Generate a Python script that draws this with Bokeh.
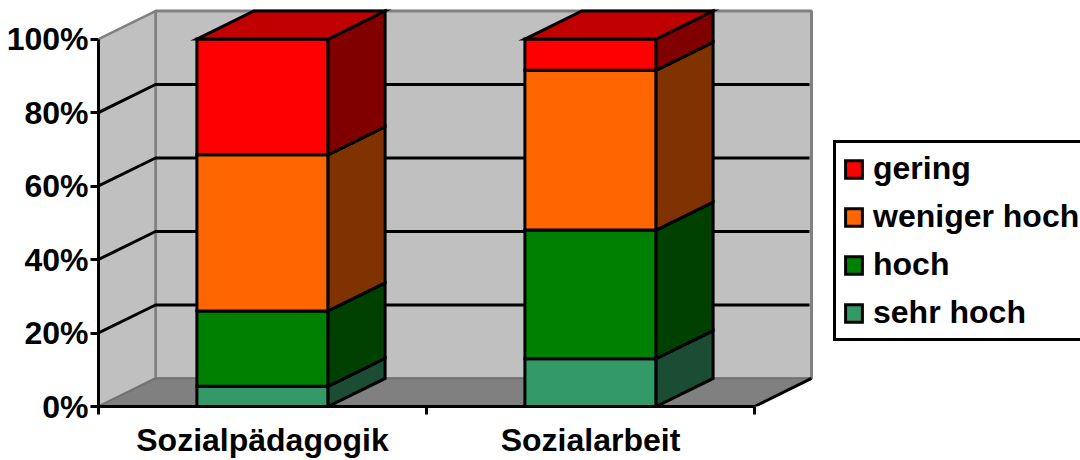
from bokeh.embed import file_html
from bokeh.models import FixedTicker, Legend, LegendItem, Range1d
from bokeh.plotting import figure
from bokeh.resources import INLINE

categories = ["Sozialpädagogik", "Sozialarbeit"]
series_names = ["sehr hoch", "hoch", "weniger hoch", "gering"]
sehr_hoch = [5.5, 13.0]
hoch = [20.5, 35.0]
weniger_hoch = [42.5, 43.5]
gering = [31.5, 8.5]
series_values = [sehr_hoch, hoch, weniger_hoch, gering]
front_colors = ["#339966", "#008000", "#FF6600", "#FF0000"]
side_colors = ["#1A4D33", "#004000", "#803300", "#800000"]
top_color = "#C00000"
y_ticks = [0, 20, 40, 60, 80, 100]

# projection of the depth axis, in data units
DX, DY = 57 / 328, 28 / 3.67
BAR = 0.4
FONT = "Liberation Sans"
FS = "32px"
N = len(categories)
LW = 3

p = figure(width=1080, height=460, output_backend="svg", toolbar_location=None,
           x_range=Range1d(0, 982 / 328), y_range=Range1d(0, 405.5 / 3.67),
           min_border_left=98, min_border_right=0, min_border_top=0, min_border_bottom=54)
p.outline_line_color = None
p.background_fill_color = None
p.grid.visible = False

GRAY = "#808080"
# walls and floor
p.patch([DX, N + DX, N + DX, DX], [DY, DY, 100 + DY, 100 + DY], fill_color="#C0C0C0", line_color=GRAY, line_width=3)
p.patch([0, DX, DX, 0], [0, DY, 100 + DY, 100], fill_color="#C0C0C0", line_color=GRAY, line_width=2.5)
p.patch([0, N, N + DX, DX], [0, 0, DY, DY], fill_color=GRAY, line_color="#707070", line_width=1.5)
p.line([N, N + DX], [0, DY], line_color="black", line_width=LW)

# grid lines
for t in y_ticks[1:-1]:
    p.line([0, DX, N + DX - 0.006], [t, t + DY, t + DY], line_color="black", line_width=LW)

# stacked bars
legend_renderers = {}
for c in range(N):
    left = c + (1 - BAR) / 2
    right = left + BAR
    base = 0.0
    for s, vals in enumerate(series_values):
        top = base + vals[c]
        r = p.quad(left=[left], right=[right], bottom=[base], top=[top],
                   fill_color=front_colors[s], line_color="black", line_width=LW, line_join="miter")
        legend_renderers[series_names[s]] = r
        p.patch([right, right + DX, right + DX, right], [base, base + DY, top + DY, top],
                fill_color=side_colors[s], line_color="black", line_width=LW, line_join="miter")
        base = top
    p.patch([left, left + DX, right + DX, right], [base, base + DY, base + DY, base],
            fill_color=top_color, line_color="black", line_width=LW, line_join="miter")

# axes
xa = p.xaxis[0]
xa.bounds = (0, N)
xa.ticker = FixedTicker(ticks=[i + 0.5 for i in range(N)], minor_ticks=list(range(N + 1)))
xa.major_label_overrides = {i + 0.5: categories[i] for i in range(N)}
xa.major_tick_out = 0
xa.major_tick_in = 0
xa.minor_tick_out = 8
xa.minor_tick_in = 0
xa.minor_tick_line_color = "black"
xa.minor_tick_line_width = LW
xa.axis_line_color = "black"
xa.axis_line_width = LW
xa.major_label_standoff = 7
xa.major_label_text_font = FONT
xa.major_label_text_font_style = "bold"
xa.major_label_text_font_size = FS
xa.major_label_text_color = "black"
xa.major_label_text_line_height = 1.0

ya = p.yaxis[0]
ya.bounds = (0, 100)
ya.ticker = FixedTicker(ticks=y_ticks)
ya.major_label_overrides = {t: f"{t}%" for t in y_ticks}
ya.major_tick_out = 8
ya.major_tick_in = 0
ya.minor_tick_out = 0
ya.minor_tick_in = 0
ya.major_tick_line_width = LW
ya.axis_line_color = "black"
ya.axis_line_width = LW
ya.major_label_standoff = 2
ya.major_label_text_font = FONT
ya.major_label_text_font_style = "bold"
ya.major_label_text_font_size = FS
ya.major_label_text_color = "black"

legend = Legend(
    items=[LegendItem(label=n, renderers=[legend_renderers[n]]) for n in reversed(series_names)],
    location=(735, 65), orientation="vertical", background_fill_alpha=1, background_fill_color="white",
    border_line_color="black", border_line_width=3, border_line_alpha=1,
    glyph_width=21, glyph_height=22, label_standoff=9, padding=7, spacing=11, margin=0,
    label_text_font=FONT, label_text_font_style="bold", label_text_font_size=FS, label_text_color="black",
)
p.add_layout(legend, "center")

open("out.html", "w").write(file_html(p, INLINE))
